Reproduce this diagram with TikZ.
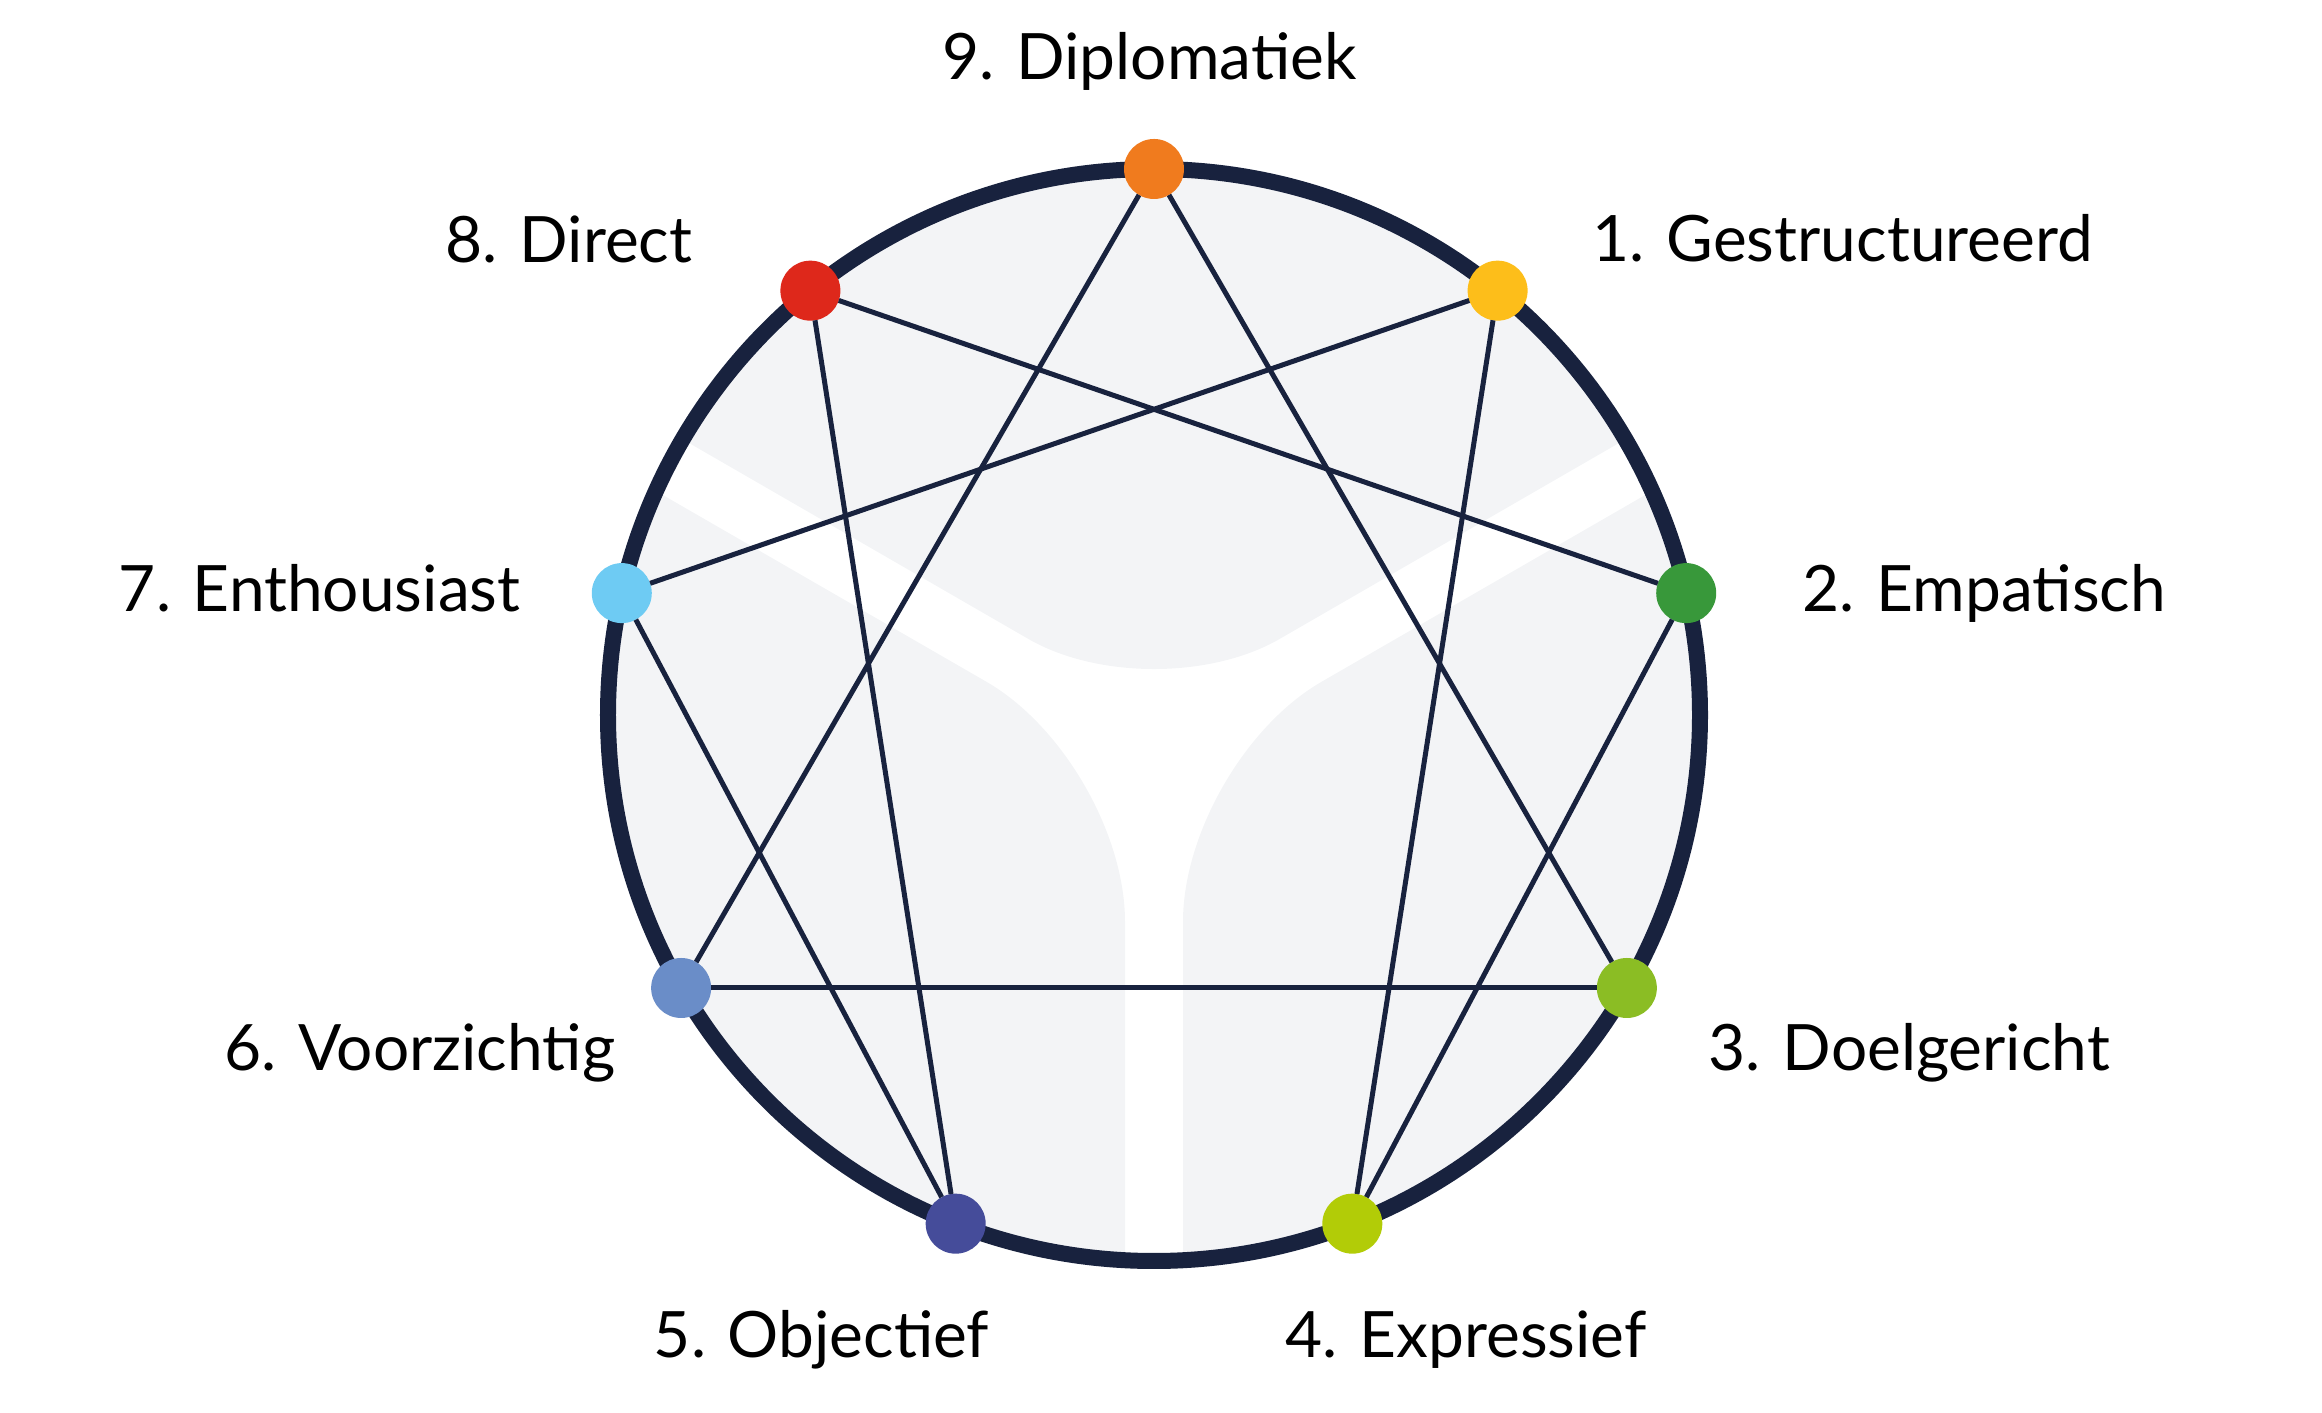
\documentclass[tikz,border=0pt]{standalone}
\usepackage{fontspec}
\setmainfont{Lato}
\usepackage{tikz}
\definecolor{navy}{HTML}{18223E}
\definecolor{bggray}{HTML}{F3F4F6}
\definecolor{col1}{HTML}{FDBE1A}
\definecolor{col2}{HTML}{38983A}
\definecolor{col3}{HTML}{8BBD24}
\definecolor{col4}{HTML}{B2CC07}
\definecolor{col5}{HTML}{454C9A}
\definecolor{col6}{HTML}{6A8DC8}
\definecolor{col7}{HTML}{6ECBF3}
\definecolor{col8}{HTML}{DE281B}
\definecolor{col9}{HTML}{F07B1E}

\begin{document}
\begin{tikzpicture}[
        dot/.style={circle, fill=#1, minimum size=0.6cm, inner sep=0pt, outer sep=0pt},
        link/.style={navy, line width=0.05cm},
        typename/.style={font=\fontsize{18.2}{22}\selectfont, text=black, inner sep=0pt}
    ]
        \useasboundingbox (-11.54, -6.98) rectangle (11.68, 7.15);

        % light background, white Y left open
        \begin{scope}
            \clip (0, 0) circle (5.46);
            \fill[bggray, rounded corners=1.45cm] (-8.66, 9) -- (-8.66, 5.035) -- (0, 0.035) -- (8.66, 5.035) -- (8.66, 9) -- cycle;
            \fill[bggray, rounded corners=1.6cm] (-12, 4.53) -- (-8.95, 4.53) -- (-0.29, -0.4675) -- (-0.29, -10) -- (-12, -10) -- cycle;
            \fill[bggray, rounded corners=1.6cm] (12, 4.53) -- (8.95, 4.53) -- (0.29, -0.4675) -- (0.29, -10) -- (12, -10) -- cycle;
        \end{scope}
        \draw[navy, line width=0.16cm] (0, 0) circle (5.46);

        % the nine points
        \node[dot=col9] (p9) at (90:5.46) {};
        \node[dot=col1] (p1) at (51:5.46) {};
        \node[dot=col2] (p2) at (12.9:5.46) {};
        \node[dot=col3] (p3) at (-30:5.46) {};
        \node[dot=col4] (p4) at (-68.7:5.46) {};
        \node[dot=col5] (p5) at (-111.3:5.46) {};
        \node[dot=col6] (p6) at (-150:5.46) {};
        \node[dot=col7] (p7) at (167.1:5.46) {};
        \node[dot=col8] (p8) at (129:5.46) {};

        % triangle
        \draw[link] (p9) -- (p3);
        \draw[link] (p3) -- (p6);
        \draw[link] (p6) -- (p9);
        % hexad
        \draw[link] (p1) -- (p4);
        \draw[link] (p4) -- (p2);
        \draw[link] (p2) -- (p8);
        \draw[link] (p8) -- (p5);
        \draw[link] (p5) -- (p7);
        \draw[link] (p7) -- (p1);

        \node[typename, anchor=base] (t9) at (-0.045, 6.35) {9. Diplomatiek};
        \node[typename, anchor=base west] (t1) at (4.38, 4.53) {1. Gestructureerd};
        \node[typename, anchor=base east] (t8) at (-4.61, 4.52) {8. Direct};
        \node[typename, anchor=base west] (t2) at (6.48, 1.03) {2. Empatisch};
        \node[typename, anchor=base east] (t7) at (-6.33, 1.03) {7. Enthousiast};
        \node[typename, anchor=base east] (t6) at (-5.38, -3.56) {6. Voorzichtig};
        \node[typename, anchor=base west] (t3) at (5.54, -3.56) {3. Doelgericht};
        \node[typename, anchor=base east] (t5) at (-1.64, -6.43) {5. Objectief};
        \node[typename, anchor=base west] (t4) at (1.31, -6.43) {4. Expressief};
    \end{tikzpicture}
\end{document}
